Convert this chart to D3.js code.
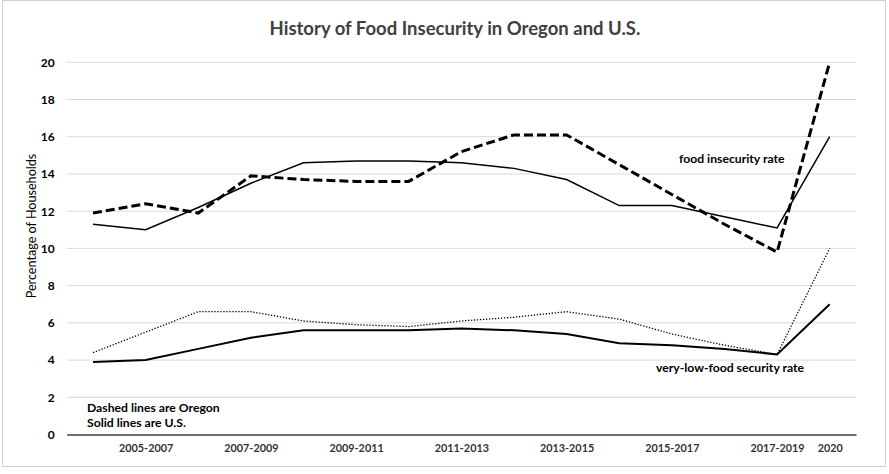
<!DOCTYPE html>
<html>
<head>
<meta charset="utf-8">
<script src="https://cdn.jsdelivr.net/npm/d3@7"></script>
<style>
  body { margin: 0; background: #fff; }
  text { font-family: Lato, "Open Sans", sans-serif; }
</style>
</head>
<body>
<svg id="chart" width="889" height="474"></svg>
<script>
// periods (3-year averages, then 2020)
const periods = ["2004-2006", "2005-2007", "2006-2008", "2007-2009", "2008-2010", "2009-2011", "2010-2012",
  "2011-2013", "2012-2014", "2013-2015", "2014-2016", "2015-2017", "2016-2018", "2017-2019", "2020"];

// only these periods get a label on the x axis
const tickLabels = ["2005-2007", "2007-2009", "2009-2011", "2011-2013", "2013-2015", "2015-2017", "2017-2019", "2020"];

// food insecurity rate
const usInsecure = [11.3, 11.0, 12.2, 13.5, 14.6, 14.7, 14.7, 14.6, 14.3, 13.7, 12.3, 12.3, 11.7, 11.1, 16.0];
const orInsecure = [11.9, 12.4, 11.9, 13.9, 13.7, 13.6, 13.6, 15.2, 16.1, 16.1, 14.5, 12.9, 11.3, 9.8, 20.0];

// very-low-food security rate
const usVeryLow = [3.9, 4.0, 4.6, 5.2, 5.6, 5.6, 5.6, 5.7, 5.6, 5.4, 4.9, 4.8, 4.6, 4.3, 7.0];
const orVeryLow = [4.4, 5.5, 6.6, 6.6, 6.1, 5.9, 5.8, 6.1, 6.3, 6.6, 6.2, 5.4, 4.8, 4.3, 10.0];

const yTicks = [0, 2, 4, 6, 8, 10, 12, 14, 16, 18, 20];

const svg = d3.select("#chart");

// outer frame
svg.append("rect").attr("x", 2.5).attr("y", 0.5).attr("width", 883).attr("height", 466)
  .attr("fill", "#fff").attr("stroke", "#d0d0d0");

// plot area
const margin = { top: 62.3, right: 33, bottom: 39.5, left: 66.7 };
const width = 889 - margin.left - margin.right;
const height = 474 - margin.top - margin.bottom;

const x = d3.scalePoint().domain(periods).range([0, width]).padding(0.5);
const y = d3.scaleLinear().domain([0, 20]).range([height, 0]);

const g = svg.append("g").attr("transform", `translate(${margin.left},${margin.top})`);

// horizontal gridlines
g.append("g").selectAll("line").data(yTicks.filter(d => d > 0)).enter().append("line")
  .attr("x1", 0).attr("x2", width).attr("y1", d => y(d)).attr("y2", d => y(d))
  .attr("stroke", "#d9d9d9").attr("stroke-width", 1);

// y axis labels
const yAxis = g.append("g").call(d3.axisLeft(y).tickValues(yTicks).tickSize(0).tickPadding(12));
yAxis.select(".domain").remove();
yAxis.selectAll("text").attr("font-size", 12).attr("font-weight", "bold").attr("fill", "#000")
  .style("font-family", "Lato, sans-serif");

// x axis
const xAxis = g.append("g").attr("transform", `translate(0,${height})`)
  .call(d3.axisBottom(x).tickValues(tickLabels).tickSize(0).tickPadding(10));
xAxis.select(".domain").attr("stroke", "#404040").attr("stroke-width", 1.5);
xAxis.selectAll("text").attr("font-size", 10.8).attr("font-weight", "bold").attr("fill", "#333")
  .style("font-family", "Lato, sans-serif");

// lines
const line = d3.line().x((d, i) => x(periods[i])).y(d => y(d));

g.append("path").datum(usInsecure).attr("d", line).attr("fill", "none")
  .attr("stroke", "#000").attr("stroke-width", 1.5);
g.append("path").datum(orInsecure).attr("d", line).attr("fill", "none")
  .attr("stroke", "#000").attr("stroke-width", 3).attr("stroke-dasharray", "9,4");
g.append("path").datum(usVeryLow).attr("d", line).attr("fill", "none")
  .attr("stroke", "#000").attr("stroke-width", 2);
g.append("path").datum(orVeryLow).attr("d", line).attr("fill", "none")
  .attr("stroke", "#000").attr("stroke-width", 1.3).attr("stroke-dasharray", "1.3,1.7");

// title
svg.append("text").attr("x", 455).attr("y", 35).attr("text-anchor", "middle")
  .attr("font-size", 18.5).attr("font-weight", "bold").attr("fill", "#404040")
  .text("History of Food Insecurity in Oregon and U.S.");

// y axis title
svg.append("text").attr("transform", "rotate(-90)").attr("x", -226).attr("y", 36)
  .attr("text-anchor", "middle").attr("font-size", 12.6).attr("fill", "#000")
  .text("Percentage of Households");

// annotations
svg.append("text").attr("x", 679).attr("y", 163).attr("font-size", 12.2).attr("font-weight", "bold")
  .text("food insecurity rate");
svg.append("text").attr("x", 656).attr("y", 372).attr("font-size", 12.2).attr("font-weight", "bold")
  .text("very-low-food security rate");
svg.append("text").attr("x", 87).attr("y", 412).attr("font-size", 12.2).attr("font-weight", "bold")
  .text("Dashed lines are Oregon");
svg.append("text").attr("x", 87).attr("y", 427).attr("font-size", 12.2).attr("font-weight", "bold")
  .text("Solid lines are U.S.");
</script>
</body>
</html>
